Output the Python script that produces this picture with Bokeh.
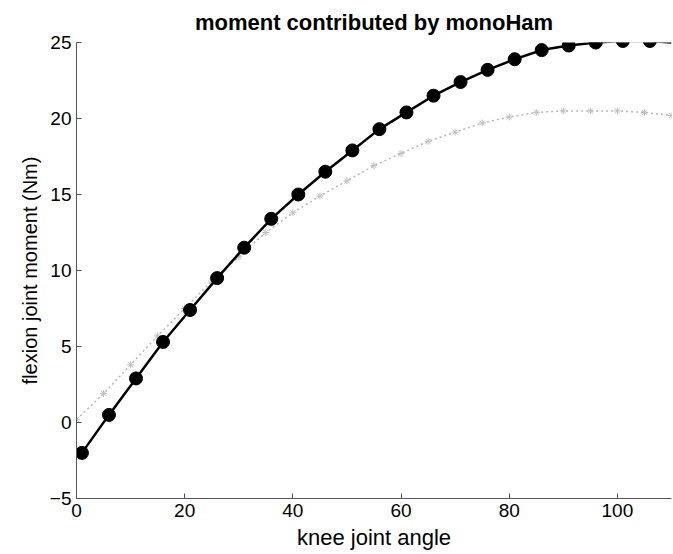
from bokeh.plotting import figure
from bokeh.models import FixedTicker, Range1d
from bokeh.embed import file_html
from bokeh.resources import INLINE

# Data
angle_black = [1, 6, 11, 16, 21, 26, 31, 36, 41, 46, 51, 56, 61, 66, 71, 76, 81, 86, 91, 96, 101, 106]
moment_black = [-2.0, 0.5, 2.9, 5.3, 7.4, 9.5, 11.5, 13.4, 15.0, 16.5, 17.9, 19.3, 20.4, 21.5, 22.4, 23.2, 23.9, 24.5, 24.8, 25.0, 25.1, 25.1]
angle_black_line = angle_black + [110]
moment_black_line = moment_black + [25.0]

angle_gray = [0, 5, 10, 15, 20, 25, 30, 35, 40, 45, 50, 55, 60, 65, 70, 75, 80, 85, 90, 95, 100, 105, 110]
moment_gray = [0.2, 1.9, 3.8, 5.7, 7.5, 9.3, 10.9, 12.5, 13.8, 14.9, 15.9, 16.9, 17.7, 18.5, 19.1, 19.7, 20.1, 20.4, 20.5, 20.5, 20.5, 20.4, 20.2]

x_ticks = [0, 20, 40, 60, 80, 100]
y_ticks = [-5, 0, 5, 10, 15, 20, 25]

FONT = "Liberation Sans"

p = figure(width=673, height=554, output_backend="svg", toolbar_location=None,
           x_range=Range1d(0, 110), y_range=Range1d(-5, 25),
           title="moment contributed by monoHam",
           min_border_left=76, min_border_right=2, min_border_top=0, min_border_bottom=56)
p.title.align = "center"
p.title.text_font = FONT
p.title.text_font_size = "22px"
p.title.text_font_style = "bold"
p.title.text_color = "black"
p.title.standoff = 15
p.outline_line_color = None
p.xgrid.visible = False
p.ygrid.visible = False
p.background_fill_color = "white"
p.border_fill_color = "white"

for ax, ticks in ((p.xaxis[0], x_ticks), (p.yaxis[0], y_ticks)):
    ax.ticker = FixedTicker(ticks=ticks)
    ax.major_tick_in = 5
    ax.major_tick_out = 0
    ax.minor_tick_line_color = None
    ax.axis_line_color = "#555555"
    ax.major_tick_line_color = "#555555"
    ax.major_label_text_font = FONT
    ax.major_label_text_font_size = "19px"
    ax.major_label_text_color = "black"
    ax.axis_label_text_font = FONT
    ax.axis_label_text_font_style = "normal"
    ax.axis_label_text_color = "black"

p.xaxis.axis_label = "knee joint angle"
p.yaxis.axis_label = "flexion joint moment (Nm)"
p.xaxis.axis_label_text_font_size = "22px"
p.yaxis.axis_label_text_font_size = "20px"
p.xaxis.major_label_standoff = 5
p.xaxis.axis_label_standoff = 5
p.yaxis.major_label_standoff = 5
p.yaxis.axis_label_standoff = 6

# gray series
p.line(angle_gray, moment_gray, line_color="#b8b8b8", line_width=1.5, line_dash="2 3")
p.scatter(angle_gray, moment_gray, marker="asterisk", size=7, line_color="#c0c0c0", line_width=1)

# black series
p.line(angle_black_line, moment_black_line, line_color="black", line_width=2.5)
p.scatter(angle_black, moment_black, marker="circle", size=13, fill_color="black", line_color="black")

open("out.html", "w").write(file_html(p, INLINE))
